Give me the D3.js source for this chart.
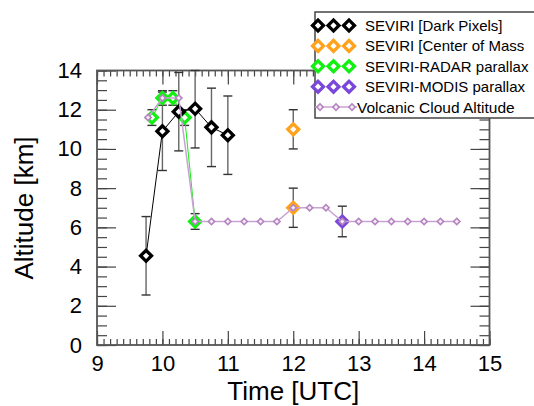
<!DOCTYPE html>
<html><head><meta charset="utf-8">
<script src="https://cdn.jsdelivr.net/npm/d3@7"></script>
<style>body{margin:0;background:#fff}svg{display:block;font-family:"Liberation Sans",Arial,Helvetica,sans-serif}</style>
</head><body><svg id="c" width="534" height="406"></svg>
<script>
// ---- data ----
const darkTime = [9.75, 10.0, 10.25, 10.5, 10.75, 11.0];
const darkAlt  = [4.55, 10.9, 11.9, 12.05, 11.1, 10.7];
const darkErr  = [2.0, 2.0, 2.0, 2.0, 2.0, 2.0];

const comTime = [12.0, 12.0];
const comAlt  = [11.0, 7.0];
const comErr  = [1.0, 1.0];

const radarTime = [9.84, 10.0, 10.16, 10.34, 10.5];
const radarAlt  = [11.6, 12.6, 12.6, 11.6, 6.3];
const radarErr  = [0.4, 0.37, 0.37, 0.4, 0.4];

const modisTime = [12.75];
const modisAlt  = [6.3];
const modisErr  = [0.78];

const volTime = [9.78, 10.0, 10.25, 10.5, 10.75, 11.0, 11.25, 11.5, 11.75, 12.0, 12.25, 12.5, 12.75, 13.0, 13.25, 13.5, 13.75, 14.0, 14.25, 14.5];
const volAlt  = [11.6, 12.6, 12.6, 6.3, 6.3, 6.3, 6.3, 6.3, 6.3, 7.0, 7.0, 7.0, 6.3, 6.3, 6.3, 6.3, 6.3, 6.3, 6.3, 6.3];

const xTicks = [9, 10, 11, 12, 13, 14, 15];
const yTicks = [0, 2, 4, 6, 8, 10, 12, 14];
const legendLabels = ["SEVIRI [Dark Pixels]", "SEVIRI [Center of Mass", "SEVIRI-RADAR parallax", "SEVIRI-MODIS parallax", "Volcanic Cloud Altitude"];

// ---- layout ----
const svg = d3.select("#c");
const L = 97, R = 489.5, T = 70.5, B = 345;
const x = d3.scaleLinear().domain([9, 15]).range([L, R]);
const y = d3.scaleLinear().domain([0, 14]).range([B, T]);

const colBlack = "#000000", colOrange = "#ffa31f", colGreen = "#11f011", colPurple = "#7a48d8", colVol = "#b585c0", colVolLine = "#c9a3d1";

const xMinor = d3.range(9, 15.0001, 0.1).map(v => +v.toFixed(1));
const yMinor = d3.range(0, 14.0001, 0.5);

function styleAxis(g) {
  g.select(".domain").remove();
  g.selectAll("line").attr("stroke", "#444").attr("stroke-width", 1.2);
}
// bottom
svg.append("g").attr("transform", `translate(0,${B})`)
  .call(d3.axisBottom(x).tickValues(xMinor).tickSize(-6).tickFormat(""))
  .call(styleAxis);
svg.append("g").attr("transform", `translate(0,${B})`)
  .call(d3.axisBottom(x).tickValues(xTicks).tickSize(-14).tickPadding(10).tickFormat(d3.format("d")))
  .call(styleAxis)
  .call(g => g.selectAll("text").attr("font-size", 22).attr("fill", "#000"));
// top
svg.append("g").attr("transform", `translate(0,${T})`)
  .call(d3.axisTop(x).tickValues(xMinor).tickSize(-6).tickFormat("")).call(styleAxis);
svg.append("g").attr("transform", `translate(0,${T})`)
  .call(d3.axisTop(x).tickValues(xTicks).tickSize(-14).tickFormat("")).call(styleAxis);
// left
svg.append("g").attr("transform", `translate(${L},0)`)
  .call(d3.axisLeft(y).tickValues(yMinor).tickSize(-10).tickFormat("")).call(styleAxis);
svg.append("g").attr("transform", `translate(${L},0)`)
  .call(d3.axisLeft(y).tickValues(yTicks).tickSize(-19).tickPadding(15).tickFormat(d3.format("d")))
  .call(styleAxis)
  .call(g => g.selectAll("text").attr("font-size", 22).attr("fill", "#000").attr("x", -15));
// right
svg.append("g").attr("transform", `translate(${R},0)`)
  .call(d3.axisRight(y).tickValues(yMinor).tickSize(-10).tickFormat("")).call(styleAxis);
svg.append("g").attr("transform", `translate(${R},0)`)
  .call(d3.axisRight(y).tickValues(yTicks).tickSize(-19).tickFormat("")).call(styleAxis);

// frame
svg.append("rect").attr("x", L).attr("y", T).attr("width", R - L).attr("height", B - T)
  .attr("fill", "none").attr("stroke", "#555").attr("stroke-width", 1.8);

// titles
svg.append("text").attr("x", (L + R) / 2).attr("y", 400).attr("text-anchor", "middle")
  .attr("font-size", 26).text("Time [UTC]");
svg.append("text").attr("transform", "translate(33,208) rotate(-90)").attr("text-anchor", "middle")
  .attr("font-size", 26).text("Altitude [km]");

// plot layer
const plot = svg.append("g");
const diamond = d3.symbol(d3.symbolSquare, 60);
const smallDiamond = d3.symbol(d3.symbolSquare, 20);

function errorBars(times, alts, errs) {
  times.forEach((t, i) => {
    const cx = x(t);
    const y0 = y(Math.min(14, alts[i] + errs[i])), y1 = y(Math.max(0, alts[i] - errs[i]));
    plot.append("line").attr("x1", cx).attr("x2", cx).attr("y1", y0).attr("y2", y1)
      .attr("stroke", "#666").attr("stroke-width", 1.4);
    [y0, y1].forEach(yy => plot.append("line").attr("x1", cx - 4.5).attr("x2", cx + 4.5)
      .attr("y1", yy).attr("y2", yy).attr("stroke", "#333").attr("stroke-width", 1.4));
  });
}
function lineSeries(times, alts, color, w) {
  plot.append("path").datum(times.map((t, i) => [t, alts[i]]))
    .attr("d", d3.line().x(d => x(d[0])).y(d => y(d[1])))
    .attr("fill", "none").attr("stroke", color).attr("stroke-width", w);
}
function markers(times, alts, color, fill, sym, sw) {
  times.forEach((t, i) => {
    plot.append("path").attr("d", sym())
      .attr("transform", `translate(${x(t)},${y(alts[i])}) rotate(45)`)
      .attr("fill", fill).attr("stroke", color).attr("stroke-width", sw);
  });
}

errorBars(darkTime, darkAlt, darkErr);
errorBars(comTime, comAlt, comErr);
errorBars(radarTime, radarAlt, radarErr);
errorBars(modisTime, modisAlt, modisErr);

lineSeries(radarTime, radarAlt, colGreen, 1);
markers(radarTime, radarAlt, colGreen, "#fff", diamond, 3.3);
lineSeries(darkTime, darkAlt, colBlack, 1);
markers(darkTime, darkAlt, colBlack, "#fff", diamond, 3.3);
markers(comTime, comAlt, colOrange, "#fff", diamond, 3.3);
markers(modisTime, modisAlt, colPurple, "#8c5de4", diamond, 3.3);
lineSeries(volTime, volAlt, colVolLine, 1.5);
markers(volTime, volAlt, colVol, "#f4ecf6", smallDiamond, 1.6);

// legend
const lg = svg.append("g");
lg.append("rect").attr("x", 315).attr("y", 12).attr("width", 240).attr("height", 106)
  .attr("fill", "#fff").attr("stroke", "#444").attr("stroke-width", 1.5);
const legColors = [colBlack, colOrange, colGreen, colPurple];
legendLabels.forEach((lab, i) => {
  const ly = 25.5 + i * 20.4;
  if (i < 4) {
    [318, 333.5, 349].forEach(lx => lg.append("path").attr("d", diamond())
      .attr("transform", `translate(${lx},${ly}) rotate(45)`)
      .attr("fill", "#fff").attr("stroke", legColors[i]).attr("stroke-width", 3.3));
    lg.append("text").attr("x", 365).attr("y", ly).attr("dy", "0.36em").attr("font-size", 15).text(lab);
  } else {
    lg.append("line").attr("x1", 315).attr("x2", 357).attr("y1", ly).attr("y2", ly)
      .attr("stroke", colVolLine).attr("stroke-width", 1.5);
    [320, 336, 352].forEach(lx => lg.append("path").attr("d", smallDiamond())
      .attr("transform", `translate(${lx},${ly}) rotate(45)`)
      .attr("fill", "#f4ecf6").attr("stroke", colVol).attr("stroke-width", 1.6));
    lg.append("text").attr("x", 357).attr("y", ly).attr("dy", "0.36em").attr("font-size", 15.5).text(lab);
  }
});
</script></body></html>
